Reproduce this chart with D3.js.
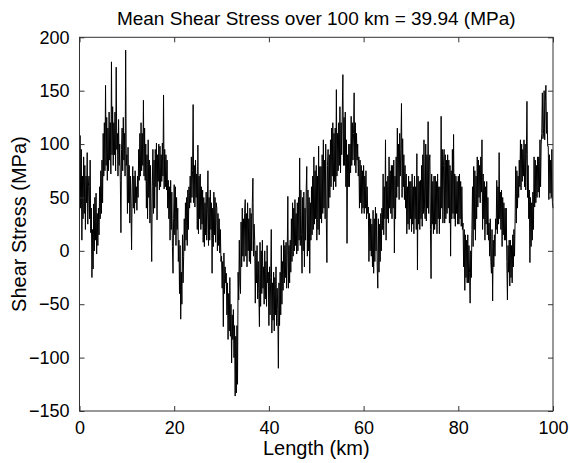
<!DOCTYPE html>
<html>
<head>
<meta charset="utf-8">
<script src="https://cdn.jsdelivr.net/npm/d3@7"></script>
<style>
  body { margin: 0; background: #fff; }
  text { font-family: "Liberation Sans", Arial, Helvetica, sans-serif; fill: #000; }
</style>
</head>
<body>
<div id="chart-container"></div>
<script>
// Shear stress along the fault, sampled every 0.125 km (read off the figure)
// one row of 8 values per km
const step = 0.125;
const stress = [
  75, 108, 40, 95, 10, 70, 30, 88,
  35, 80, 20, 70, 45, 92, 25, 60,
  70, 30, 85, 17, 40, -25, 20, -17,
  44, 0, 50, 10, 54, -3, 35, 5,
  40, 15, 60, 30, 75, 35, 85, 45,
  110, 70, 120, 75, 155, 80, 125, 66,
  115, 75, 130, 85, 120, 72, 177, 90,
  135, 80, 120, 90, 130, 75, 172, 95,
  110, 70, 123, 80, 100, 66, 17, 95,
  115, 75, 125, 85, 110, 70, 188, 80,
  90, 35, 97, 45, 80, 26, 70, 40,
  1, 60, 79, 40, 70, 35, 75, 45,
  60, 38, 70, 50, 95, 66, 110, 70,
  120, 75, 110, 80, 141, 70, 115, 66,
  100, 40, 90, 30, 104, 50, 85, 26,
  80, 30, -10, 60, 95, 35, 85, 40,
  95, 60, 101, 29, 90, 65, 100, 57,
  98, 60, 90, 65, 101, 70, 146, 58,
  95, 60, 90, 57, 85, 40, 66, 30,
  60, 10, 66, 20, 55, 4, -21, 30,
  62, 15, 60, 5, 50, 20, 40, -10,
  10, -40, 5, -64, -20, -50, 15, -30,
  -5, 30, 0, 45, 10, 50, 5, 57,
  20, 60, 40, 70, 45, 88, 50, 75,
  137, 45, 80, 41, 85, 50, 72, 20,
  99, 16, 70, 30, 72, 20, 60, 25,
  57, 8, 50, 4, 45, 15, 55, 10,
  40, 75, 5, 50, 10, 57, 20, 45,
  -21, 40, 4, 55, 15, 50, 8, 45,
  40, 0, 35, 5, 30, -2, 20, -10,
  -5, -35, -10, -71, -2, -40, -15, -30,
  -21, -60, -30, -83, -40, -75, -25, -80,
  -50, -105, -60, -83, -55, -100, -70, -136,
  -80, -133, -70, -125, -20, -46, 10, -30,
  -40, 27, -15, 40, -5, 30, -10, 35,
  48, -5, 35, -15, 45, 0, 30, -10,
  40, -12, 35, 0, 45, 68, -5, 25,
  10, -49, 0, -30, 5, -45, -10, -40,
  -71, 8, -52, 0, -40, 10, -35, -15,
  -50, 0, -45, -10, -52, 5, -30, -20,
  -70, -15, -60, -25, 20, -77, -30, -65,
  -20, -75, -25, -60, -15, -70, -35, -55,
  -110, -30, -70, -20, -60, 5, -50, -10,
  -37, 10, -30, 5, -25, 8, -35, 0,
  51, -35, 5, -30, 10, -20, 30, -10,
  45, -5, 40, 0, 48, 5, 35, -3,
  45, 0, 50, 10, 87, 5, 57, 15,
  -21, 50, 0, 55, -15, 40, 10, 57,
  79, -5, 57, 0, 50, -21, 45, 10,
  60, 15, 70, 20, 88, 25, 75, 30,
  80, 10, 70, 20, 98, 15, 79, 30,
  79, 26, 90, 35, 104, 40, 85, 30,
  100, 30, -11, 80, 95, 40, 90, 50,
  104, 60, 115, 70, 120, 57, 110, 65,
  115, 60, 151, 70, 110, 75, 120, 80,
  135, 73, 120, 90, 130, 165, 80, 125,
  80, 130, 60, 104, 7, 90, 60, 100,
  60, 100, 73, 126, 80, 120, 85, 110,
  148, 80, 120, 73, 110, 85, 100, 70,
  88, 40, 85, 45, 80, 35, 75, 40,
  80, 35, 70, 40, 75, 30, 60, 35,
  41, -10, 35, 0, 30, -5, 25, -15,
  38, -21, 30, -10, 41, 0, 35, -15,
  -35, 30, -20, 25, -10, 35, 0, 40,
  20, 72, 15, 60, 30, 104, 10, 65,
  30, 70, 26, 88, 40, 75, 35, 80,
  30, 80, 40, 85, -2, 70, 30, 88,
  50, 115, 60, 100, 48, 110, 70, 95,
  138, 50, 105, 60, 90, 48, 80, 40,
  72, 16, 60, 25, 70, 20, 65, 30,
  65, 18, 72, 25, 60, 16, 70, 30,
  60, 20, 91, -18, 70, 25, 65, 20,
  66, 30, 80, 23, 90, 35, 104, 40,
  30, 100, 28, 90, 40, 121, 35, 85,
  90, 20, -26, 72, 25, 65, 16, 70,
  20, 70, 25, 65, 16, 72, 30, 60,
  16, 60, 30, 126, 40, 95, 26, 80,
  95, 26, 90, 30, 85, 35, 90, 40,
  85, 26, 80, -5, 75, 30, 95, 35,
  109, 30, 72, 23, 70, 35, 65, 25,
  70, 25, 72, 30, 65, 23, 60, 20,
  26, -15, 20, -37, 15, -25, 10, -30,
  15, -30, 5, -20, -49, 0, -25, 20,
  60, 4, 79, 20, 75, 10, 70, 30,
  88, 41, 85, 50, 80, 45, 88, 55,
  104, 20, 72, 30, 65, 10, 60, 25,
  65, 15, 50, 10, 26, -5, 30, -10,
  -21, 20, -47, 10, -15, 15, -5, 30,
  20, 66, 16, 60, 25, 92, 30, 55,
  20, 57, 4, 50, 15, 45, 10, 40,
  10, 40, -10, -46, 5, -20, 10, -33,
  10, -25, 5, -30, 15, -15, 20, -5,
  30, 79, 26, 75, 40, 70, 50, 85,
  60, 104, 57, 100, 65, 95, 70, 104,
  60, 100, 57, 90, 140, 50, 80, 30,
  57, -11, 50, 4, 45, 10, 55, 20,
  88, 41, 85, 45, 80, 50, 88, 55,
  88, 50, 104, 60, 100, 110, 148, 105,
  110, 150, 104, 140, 155, 110, 130, 98,
  98, 48, 90, 54, 85, 50, 95, 45,
  40
];

const xTicks = [0, 20, 40, 60, 80, 100];
const yTicks = [-150, -100, -50, 0, 50, 100, 150, 200];
const titleText = "Mean Shear Stress over 100 km = 39.94 (MPa)";
const xLabel = "Length (km)";
const yLabel = "Shear Stress (MPa)";

const W = 570, H = 463;
const mLeft = 79.5, mRight = 553, mTop = 37.3, mBottom = 411;

const svg = d3.select("#chart-container")
    .append("svg")
    .attr("width", W)
    .attr("height", H);

const x = d3.scaleLinear().domain([0, 100]).range([mLeft, mRight]);
const y = d3.scaleLinear().domain([-150, 200]).range([mBottom, mTop]);

const data = stress.map((v, i) => ({ km: i * step, v: v }));

// signal
svg.append("path")
    .datum(data)
    .attr("fill", "none")
    .attr("stroke", "#000")
    .attr("stroke-width", 1)
    .attr("d", d3.line().x(d => x(d.km)).y(d => y(d.v)));

// axes, MATLAB style: ticks inward on all four sides
const tickLen = 5;
function styleAxis(g) {
    g.select(".domain").remove();
    g.selectAll(".tick line").attr("stroke", "#333");
    g.selectAll(".tick text").style("font-size", "18px");
}

svg.append("g")
    .attr("transform", `translate(0,${mBottom})`)
    .call(d3.axisBottom(x).tickValues(xTicks).tickSize(-tickLen).tickPadding(10))
    .call(styleAxis)
    .selectAll(".tick text").attr("dy", "0.72em");

svg.append("g")
    .attr("transform", `translate(0,${mTop})`)
    .call(d3.axisTop(x).tickValues(xTicks).tickSize(-tickLen).tickFormat(""))
    .call(styleAxis);

svg.append("g")
    .attr("transform", `translate(${mLeft},0)`)
    .call(d3.axisLeft(y).tickValues(yTicks).tickSize(-tickLen).tickPadding(10))
    .call(styleAxis);

svg.append("g")
    .attr("transform", `translate(${mRight},0)`)
    .call(d3.axisRight(y).tickValues(yTicks).tickSize(-tickLen).tickFormat(""))
    .call(styleAxis);

// box
svg.append("rect")
    .attr("x", mLeft)
    .attr("y", mTop)
    .attr("width", mRight - mLeft)
    .attr("height", mBottom - mTop)
    .attr("fill", "none")
    .attr("stroke", "#333")
    .attr("stroke-width", 1);

// title and labels
svg.append("text")
    .attr("x", (mLeft + mRight) / 2)
    .attr("y", 25)
    .attr("text-anchor", "middle")
    .style("font-size", "19px")
    .text(titleText);

svg.append("text")
    .attr("x", (mLeft + mRight) / 2)
    .attr("y", 455)
    .attr("text-anchor", "middle")
    .style("font-size", "20px")
    .text(xLabel);

svg.append("text")
    .attr("transform", `translate(26,${(mTop + mBottom) / 2}) rotate(-90)`)
    .attr("text-anchor", "middle")
    .style("font-size", "20px")
    .text(yLabel);
</script>
</body>
</html>
